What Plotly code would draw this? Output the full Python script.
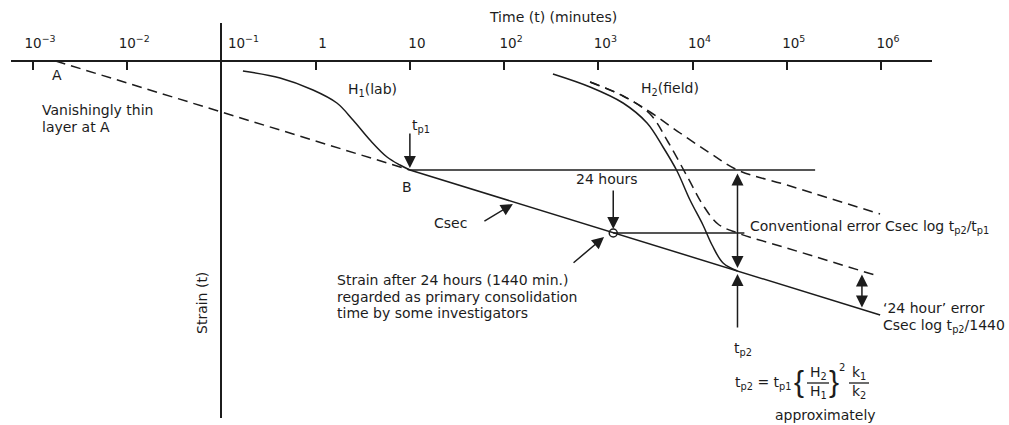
import math
import plotly.graph_objects as go

W, H = 1009, 425
FONT = "DejaVu Sans"
INK = "#1c1c1c"

# ---------------- data ----------------
# time axis (minutes), logarithmic
tick_times = [1e-3, 1e-2, 1e-1, 1, 10, 1e2, 1e3, 1e4, 1e5, 1e6]
tick_labels = ["10<sup>−3</sup>", "10<sup>−2</sup>", "\u00a0" * 7 + "10<sup>−1</sup>", "1", "10",
               "10<sup>2</sup>", "10<sup>3</sup>", "10<sup>4</sup>", "10<sup>5</sup>", "10<sup>6</sup>"]

# secondary compression line through A and B (strain in arbitrary units, increasing downward)
csec_time = [0.00174, 10, 980000]
csec_strain = [0, 109, 254]

# laboratory specimen, thickness H1
lab_time = [0.169, 0.419, 0.937, 1.68, 2.49, 3.77, 5.72, 7.85, 10]
lab_strain = [10, 17, 29, 42, 59, 79, 96, 104, 109]

# field layer, thickness H2
field_time = [330, 817, 1830, 3290, 4860, 6840, 9400, 12900, 16100, 21100, 30000]
field_strain = [13, 26, 42, 62, 86, 110, 139, 164, 184, 202, 210]

# field curve predicted with the conventional end-of-primary strain
conv_time = [817, 1830, 3540, 7360, 15300, 30000, 100000, 977000]
conv_strain = [21, 35, 51, 72, 92, 109, 124, 153]

# field curve predicted with the 24-hour strain
day_time = [817, 1830, 3540, 5500, 8960, 12900, 18600, 30000, 100000, 929000]
day_strain = [21, 35, 53, 81, 117, 144, 163, 172, 187, 215]

t_p1, strain_p1 = 10, 109
t_p2, strain_p2 = 30000, 210
t_24h, strain_24h = 1440, 172

# ---------------- layout geometry ----------------
PL, PR, PT, PB = 11, 932, 23, 418
X_RANGE = [-3.2335, 6.5415]
Y_RANGE = [357, -38]


def paper(px, py):
    return (px - PL) / (PR - PL), (PB - py) / (PB - PT)


def lx(t):
    return math.log10(t)


fig = go.Figure()

line_solid = dict(color=INK, width=1.5)
line_dash = dict(color=INK, width=1.5, dash="10px,6px")

# Csec: dashed from A to B, solid beyond B
fig.add_trace(go.Scatter(x=csec_time[:2], y=csec_strain[:2], mode="lines", line=line_dash))
fig.add_trace(go.Scatter(x=csec_time[1:], y=csec_strain[1:], mode="lines", line=line_solid))
fig.add_trace(go.Scatter(x=lab_time, y=lab_strain, mode="lines", line=dict(line_solid, shape="spline")))
fig.add_trace(go.Scatter(x=field_time, y=field_strain, mode="lines", line=dict(line_solid, shape="spline")))
fig.add_trace(go.Scatter(x=conv_time, y=conv_strain, mode="lines", line=dict(line_dash, shape="spline")))
fig.add_trace(go.Scatter(x=day_time, y=day_strain, mode="lines", line=dict(line_dash, shape="spline")))
# end-of-primary strain levels
fig.add_trace(go.Scatter(x=[t_p1, 200000], y=[strain_p1, strain_p1], mode="lines", line=line_solid))
fig.add_trace(go.Scatter(x=[t_24h, 35500], y=[strain_24h, strain_24h], mode="lines", line=line_solid))
fig.add_trace(go.Scatter(x=[t_24h], y=[strain_24h], mode="markers",
                         marker=dict(symbol="circle-open", size=8, color=INK, line=dict(width=1.5))))

annotations = []


def arrow(t, s, dx, dy, both=False):
    a = dict(x=lx(t), y=s, xref="x", yref="y", ax=dx, ay=dy, axref="pixel", ayref="pixel",
             text="", showarrow=True, arrowhead=2, arrowsize=1.6, arrowwidth=1.5,
             arrowcolor=INK, standoff=0)
    if both:
        a.update(arrowside="end+start", startarrowhead=2, startarrowsize=1.6, startstandoff=0)
    annotations.append(a)


arrow(t_p1, strain_p1 - 2, 0, -36)
arrow(t_24h, strain_24h - 4, 0, -40)
arrow(124, 143, -30, 18)
arrow(1150, 176, -32, 27)
arrow(t_p2, 207, 0, -96, both=True)
arrow(t_p2, 213, 0, 55)
arrow(628000, 246.5, 0, -34.5, both=True)


def label(px, py, text, size=14, xanchor="center", angle=0, family=FONT):
    xp, yp = paper(px, py)
    annotations.append(dict(x=xp, y=yp, xref="paper", yref="paper", text=text, showarrow=False,
                            xanchor=xanchor, yanchor="middle", textangle=angle,
                            font=dict(family=family, size=size, color=INK)))


label(553, 17, "Time (t) (minutes)")
label(57, 75, "A")
label(40, 110, "Vanishingly thin", xanchor="left")
label(40, 127, "layer at A", xanchor="left")
label(372, 90, "H<sub>1</sub>(lab)")
label(670, 89, "H<sub>2</sub>(field)")
label(421, 126, "t<sub>p1</sub>")
label(407, 187, "B")
label(450, 223, "Csec")
label(607, 179, "24 hours")
label(335, 280, "Strain after 24 hours (1440 min.)", xanchor="left")
label(335, 297, "regarded as primary consolidation", xanchor="left")
label(335, 313, "time by some investigators", xanchor="left")
label(748, 227, "Conventional error Csec log t<sub>p2</sub>/t<sub>p1</sub>", xanchor="left")
label(881, 308, "‘24 hour’ error", xanchor="left")
label(881, 326, "Csec log t<sub>p2</sub>/1440", xanchor="left")
label(202, 303, "Strain (t)", angle=-90)
label(743, 349, "t<sub>p2</sub>")
# t_p2 = t_p1 {H2/H1}^2 k1/k2
label(733, 383, "t<sub>p2</sub> = t<sub>p1</sub>", xanchor="left")
label(799, 381, "{", size=30, family="Liberation Sans")
label(834, 381, "}", size=30, family="Liberation Sans")
label(818, 373, "H<sub>2</sub>")
label(818, 392, "H<sub>1</sub>")
label(842, 367, "2", size=10)
label(859, 373, "k<sub>1</sub>")
label(859, 392, "k<sub>2</sub>")
label(825, 415, "approximately")

shapes = []
for x0, x1 in [(807, 829), (849, 869)]:
    a0, b0 = paper(x0, 383)
    a1, _ = paper(x1, 383)
    shapes.append(dict(type="line", xref="paper", yref="paper", x0=a0, x1=a1, y0=b0, y1=b0,
                       line=dict(color=INK, width=1.3)))

y_axis_pos = (lx(0.1) - X_RANGE[0]) / (X_RANGE[1] - X_RANGE[0])
x_axis_pos = (PB - 61) / (PB - PT)

fig.update_layout(
    width=W, height=H,
    margin=dict(l=PL, r=W - PR, t=PT, b=H - PB, autoexpand=False),
    paper_bgcolor="white", plot_bgcolor="white",
    showlegend=False, hovermode=False,
    font=dict(family=FONT, size=14, color=INK),
    xaxis=dict(type="log", range=X_RANGE, side="top", anchor="free", position=x_axis_pos,
               showline=True, linewidth=2, linecolor=INK, showgrid=False, zeroline=False,
               ticks="inside", ticklen=8, tickwidth=1.5, tickcolor=INK,
               tickvals=tick_times, ticktext=tick_labels, ticklabelstandoff=7, ticklabelshift=7,
               tickfont=dict(family=FONT, size=13.5, color=INK)),
    yaxis=dict(range=Y_RANGE, anchor="free", position=y_axis_pos, showline=True, linewidth=2,
               linecolor=INK, showgrid=False, zeroline=False, ticks="", showticklabels=False),
    annotations=annotations,
    shapes=shapes,
)

fig.write_html("out.html")
